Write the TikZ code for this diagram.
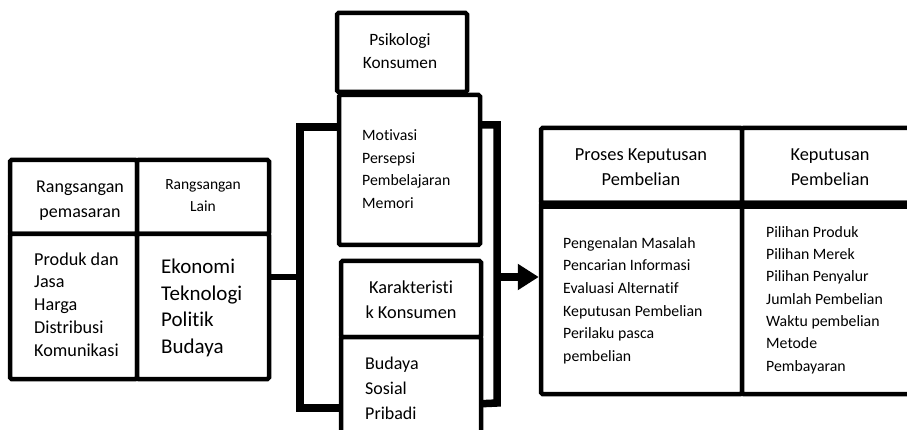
\documentclass[tikz,border=0pt]{standalone}
\usepackage{fontspec}
\setmainfont{Carlito}[Ligatures={NoCommon}]
\usetikzlibrary{arrows.meta}
\pgfdeclarelayer{background}
\pgfsetlayers{background,main}
\begin{document}
\begin{tikzpicture}[x=1pt,y=-1pt,
  cell/.style={draw, line width=4.5pt, fill=white, rounded corners=1.5pt, inner sep=0pt},
  bracketline/.style={line width=7.5pt, line join=miter},
  txt/.style={inner sep=0pt, align=left, anchor=west},
  ctxt/.style={inner sep=0pt, align=center}]
\useasboundingbox (0,0) rectangle (907,430);
\clip (0,0) rectangle (907,430);

% left box
\node[cell, minimum width=127, minimum height=74] (lphead) at (73.5,197) {};
\node[cell, minimum width=127, minimum height=145] (lpbody) at (73.5,306.5) {};
\node[cell, minimum width=132, minimum height=74] (llhead) at (203,197) {};
\node[cell, minimum width=132, minimum height=145] (llbody) at (203,306.5) {};

% middle boxes
\node[cell, minimum width=130, minimum height=79] (psihead) at (402,52.5) {};
\node[cell, minimum width=141, minimum height=150] (psibody) at (409.5,170) {};
\node[cell, minimum width=140, minimum height=76] (karhead) at (411,299) {};
\node[cell, minimum width=140, minimum height=123] (karbody) at (411,398.5) {};

% right box
\node[cell, minimum width=201, minimum height=75] (pkhead) at (641.5,165.5) {};
\node[cell, minimum width=201, minimum height=191] (pkbody) at (641.5,298.5) {};
\node[cell, minimum width=176, minimum height=75] (kphead) at (830,165.5) {};
\node[cell, minimum width=176, minimum height=191] (kpbody) at (830,298.5) {};
\draw[line width=8pt] (pkhead.south west) -- (kphead.south east);

% bracket coordinates
\coordinate (bLT) at (300,127);
\coordinate (bLM) at (300,277);
\coordinate (bLB) at (300,408);
\coordinate (bRT) at (497,125);
\coordinate (bRM) at (497,277);
\coordinate (bRB) at (497,403);
\coordinate (bRE) at (481,407);

\begin{pgfonlayer}{background}
\fill[white] (0,0) rectangle (907,430);
\draw[bracketline] (bLT -| psibody.center) -- (bLT) -- (bLB) -- (bLB -| karbody.center);
\draw[bracketline] (bRT -| psibody.center) -- (bRT) -- (bRB) -- (bRE -| karbody.center);
\end{pgfonlayer}
\draw[line width=6.5pt] (llbody.east |- bLM) -- (bLM);
\draw[line width=7pt, -{Triangle[length=21pt,width=25pt]}] (bRM) -- (bRM -| pkbody.west);

% texts
\node[ctxt, font=\fontsize{18}{25}\selectfont] (t1) at (80,200.5) {Rangsangan\\pemasaran};
\node[ctxt, font=\fontsize{15.5}{22}\selectfont] (t2) at (203,196) {Rangsangan\\Lain};
\node[txt, font=\fontsize{18.2}{22.8}\selectfont] (t3) at (34,304.5) {Produk dan\\Jasa\\Harga\\Distribusi\\Komunikasi};
\node[txt, font=\fontsize{21}{26.7}\selectfont] (t4) at (161,308) {Ekonomi\\Teknologi\\Politik\\Budaya};
\node[ctxt, font=\fontsize{17.3}{23}\selectfont] (t5) at (400,51.5) {Psikologi\\Konsumen};
\node[txt, font=\fontsize{15.8}{22.5}\selectfont] (t6) at (362,169) {Motivasi\\Persepsi\\Pembelajaran\\Memori};
\node[ctxt, font=\fontsize{18.3}{25}\selectfont] (t7) at (411,299.5) {Karakteristi\\k Konsumen};
\node[txt, font=\fontsize{18}{25}\selectfont] (t8) at (365,388) {Budaya\\Sosial\\Pribadi};
\node[ctxt, font=\fontsize{18.4}{25}\selectfont] (t9) at (641,167.5) {Proses Keputusan\\Pembelian};
\node[ctxt, font=\fontsize{18.3}{25}\selectfont] (t10) at (830,167.5) {Keputusan\\Pembelian};
\node[txt, font=\fontsize{15.8}{22.6}\selectfont] (t11) at (563,300.5) {Pengenalan Masalah\\Pencarian Informasi\\Evaluasi Alternatif\\Keputusan Pembelian\\Perilaku pasca\\pembelian};
\node[txt, font=\fontsize{15.8}{22.3}\selectfont] (t12) at (766,300) {Pilihan Produk\\Pilihan Merek\\Pilihan Penyalur\\Jumlah Pembelian\\Waktu pembelian\\Metode\\Pembayaran};
\end{tikzpicture}
\end{document}
